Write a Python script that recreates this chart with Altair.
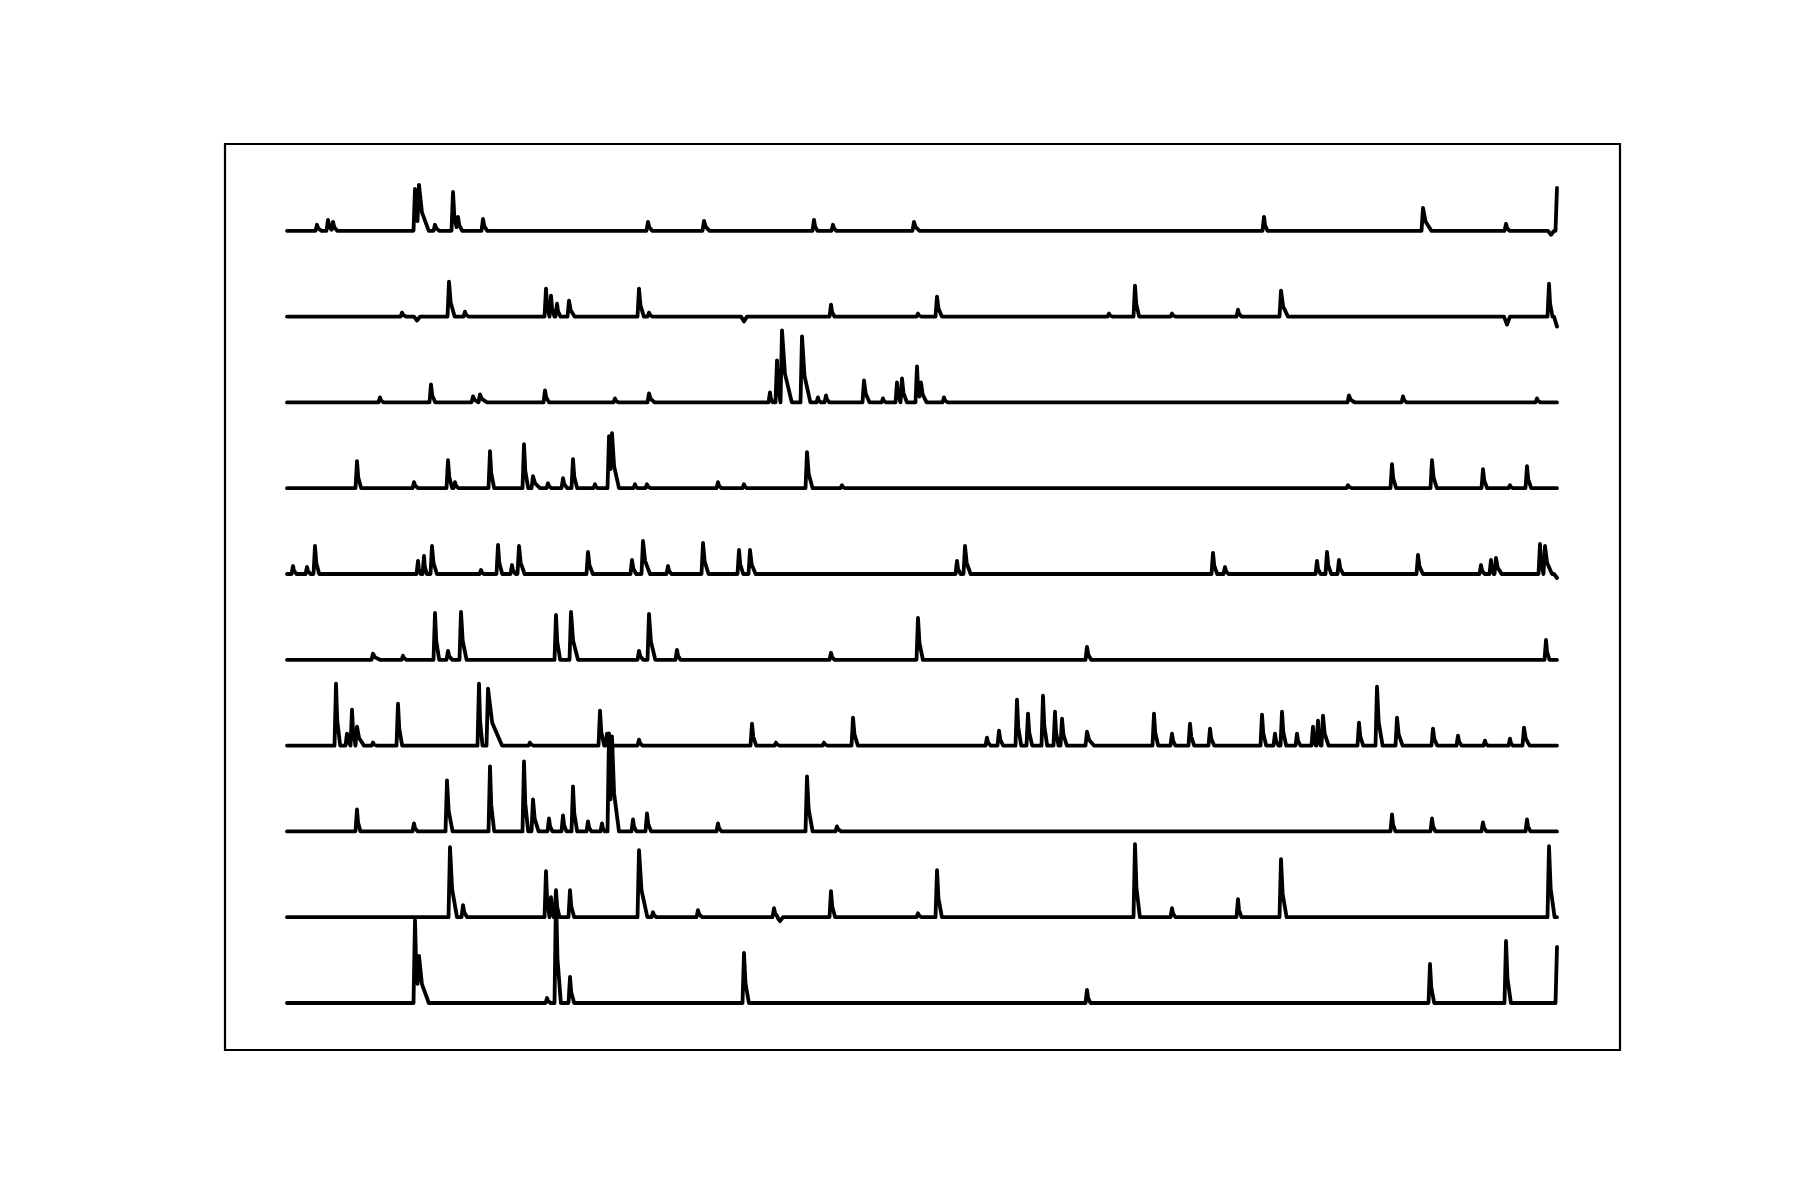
import altair as alt
import numpy as np
import pandas as pd

# Each trace: list of transients (frame, peak amplitude, decay length); negative amplitude = dip
trace_1 = [(30, 6, 6), (41, 11, 6), (46, 9, 6), (128, 42, 6), (132, 46, 14), (148, 6, 6),
           (166, 39, 6), (171, 14, 6), (196, 12, 6), (361, 9, 6), (417, 10, 8), (527, 11, 5),
           (546, 6, 5), (627, 9, 8), (977, 14, 5), (1136, 23, 12), (1219, 7, 5), (1264, -4, 3),
           (1270, 43, 2)]
trace_2 = [(115, 4, 6), (130, -4, 3), (162, 35, 8), (178, 5, 5), (259, 28, 5), (264, 21, 5),
           (270, 13, 5), (282, 16, 8), (352, 28, 7), (362, 4, 5), (457, -5, 3), (544, 12, 5),
           (631, 3, 5), (650, 20, 7), (822, 3, 5), (848, 31, 6), (885, 3, 5), (951, 7, 5),
           (994, 26, 10), (1220, -8, 3), (1262, 33, 5), (1270, -10, 3)]
trace_3 = [(93, 5, 5), (144, 18, 6), (186, 6, 8), (193, 8, 10), (258, 12, 6), (328, 4, 5),
           (362, 9, 8), (483, 10, 4), (490, 42, 5), (495, 72, 14), (515, 66, 12), (531, 5, 4),
           (539, 7, 5), (577, 22, 8), (596, 4, 4), (610, 20, 5), (615, 24, 7), (630, 36, 5),
           (634, 20, 8), (657, 5, 5), (1062, 7, 8), (1116, 6, 5), (1250, 4, 5)]
trace_4 = [(70, 27, 6), (127, 6, 6), (161, 28, 6), (168, 6, 5), (203, 37, 6), (237, 44, 6),
           (246, 12, 10), (261, 5, 5), (276, 10, 6), (286, 29, 6), (308, 4, 4), (322, 52, 6),
           (325, 55, 10), (348, 4, 4), (360, 4, 5), (431, 6, 5), (457, 4, 4), (520, 36, 8),
           (555, 3, 4), (1061, 3, 6), (1105, 24, 6), (1145, 28, 7), (1196, 19, 6), (1223, 3, 4),
           (1240, 22, 6)]
trace_5 = [(6, 8, 5), (20, 7, 5), (28, 28, 6), (131, 13, 4), (137, 18, 4), (145, 28, 7),
           (194, 4, 4), (211, 29, 6), (225, 9, 5), (232, 28, 8), (301, 22, 7), (345, 14, 6),
           (356, 33, 10), (381, 8, 5), (416, 31, 8), (452, 24, 6), (463, 24, 8), (670, 13, 5),
           (678, 28, 8), (926, 21, 6), (938, 7, 5), (1030, 13, 5), (1040, 22, 6), (1052, 14, 6),
           (1131, 19, 7), (1194, 9, 5), (1204, 14, 4), (1209, 16, 8), (1253, 30, 5),
           (1258, 28, 10), (1270, -4, 3)]
trace_6 = [(86, 6, 10), (116, 4, 5), (148, 47, 6), (161, 9, 6), (174, 48, 8), (269, 45, 6),
           (284, 48, 10), (352, 9, 6), (362, 46, 9), (390, 10, 5), (544, 7, 5), (631, 42, 7),
           (800, 13, 6), (1259, 20, 5)]
trace_7 = [(49, 62, 6), (60, 12, 5), (65, 36, 5), (70, 19, 10), (86, 3, 5), (111, 42, 6),
           (192, 62, 5), (201, 57, 20), (243, 3, 5), (313, 35, 6), (320, 12, 8), (352, 6, 5),
           (465, 22, 6), (489, 3, 5), (537, 3, 5), (566, 28, 7), (700, 8, 5), (712, 15, 6),
           (730, 46, 6), (741, 32, 6), (756, 50, 6), (768, 34, 5), (775, 27, 7), (800, 14, 10),
           (867, 32, 6), (885, 12, 5), (903, 22, 6), (923, 17, 6), (975, 31, 6), (988, 12, 5),
           (995, 34, 6), (1010, 12, 5), (1026, 19, 4), (1031, 25, 4), (1036, 30, 8),
           (1072, 23, 6), (1090, 59, 8), (1110, 28, 8), (1146, 17, 6), (1171, 10, 5),
           (1198, 5, 4), (1223, 7, 4), (1237, 18, 8)]
trace_8 = [(70, 22, 5), (127, 8, 5), (160, 51, 8), (203, 65, 6), (237, 70, 6), (246, 32, 8),
           (262, 13, 5), (276, 16, 5), (286, 45, 6), (301, 10, 5), (315, 8, 4), (322, 98, 5),
           (325, 95, 10), (346, 12, 5), (360, 18, 6), (431, 8, 5), (520, 55, 8), (550, 5, 6),
           (1105, 17, 5), (1145, 13, 5), (1196, 9, 5), (1240, 12, 5)]
trace_9 = [(163, 70, 10), (176, 12, 6), (259, 46, 5), (264, 20, 4), (269, 27, 5), (283, 27, 6),
           (352, 67, 12), (366, 5, 5), (411, 7, 6), (487, 9, 6), (493, -4, 3), (544, 26, 6),
           (631, 4, 5), (650, 47, 7), (848, 73, 7), (885, 9, 5), (951, 18, 5), (994, 58, 8),
           (1262, 71, 8)]
trace_10 = [(128, 83, 6), (132, 47, 14), (260, 5, 5), (269, 110, 7), (283, 26, 6),
            (457, 50, 7), (800, 13, 5), (1143, 39, 6), (1219, 62, 7), (1270, 56, 2)]

traces = [trace_1, trace_2, trace_3, trace_4, trace_5,
          trace_6, trace_7, trace_8, trace_9, trace_10]
n_frames = 1270
spacing = 85.8

rows = []
for i, peaks in enumerate(traces):
    shapes = []
    for t, h, d in peaks:
        if h >= 0:
            dd = 0.7 * d
            shapes.append(([t - 1.5, t, t + 0.3 * dd, t + dd], [0, h, 0.4 * h, 0]))
        else:
            shapes.append(([t - d, t, t + d], [0, h, 0]))
    times = {0.0, float(n_frames)}
    for xs, _ in shapes:
        times.update(float(x) for x in xs if 0 <= x <= n_frames)
    times = np.array(sorted(times))
    pos = np.zeros_like(times)
    neg = np.zeros_like(times)
    for xs, ys in shapes:
        v = np.interp(times, xs, ys, left=0, right=0)
        pos = np.maximum(pos, v)
        neg = np.minimum(neg, v)
    vals = pos + neg + (9 - i) * spacing
    for t, v in zip(times, vals):
        rows.append({"frame": t, "value": v, "cell": i})

df = pd.DataFrame(rows)

chart = alt.Chart(df).mark_line(
    color="black", strokeWidth=3.8, strokeJoin="round", strokeCap="round"
).encode(
    x=alt.X("frame:Q", axis=None,
            scale=alt.Scale(domain=[-62, 1333], nice=False, zero=False)),
    y=alt.Y("value:Q", axis=None,
            scale=alt.Scale(domain=[-47, 859], nice=False, zero=False)),
    detail="cell:N",
    order="frame:Q",
).properties(
    width=1395, height=906,
    padding={"left": 217, "top": 136, "right": 10, "bottom": 10},
).configure_view(
    stroke="black", strokeWidth=2.2
)

chart.save("out.html", embed_options={"renderer": "svg", "actions": False})
